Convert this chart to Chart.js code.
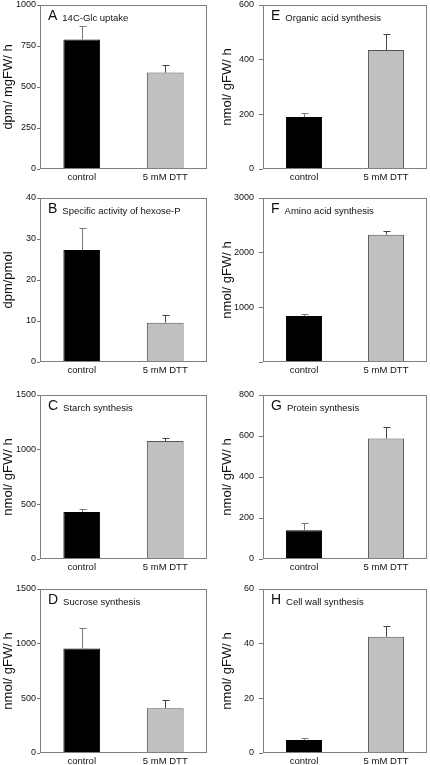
<!DOCTYPE html>
<html>
<head>
<meta charset="utf-8">
<script src="https://cdn.jsdelivr.net/npm/chart.js@4/dist/chart.umd.min.js"></script>
<style>
  body { margin: 0; background: #fff; width: 430px; height: 765px; position: relative; overflow: hidden; }
  .panel { position: absolute; width: 215px; height: 181px; }
</style>
</head>
<body>
<script>
const categories = ['control', '5 mM DTT'];

// means and upper error (SE)
const glcUptake = [790, 588], glcUptakeErr = [80, 45];
const hexosePActivity = [27.3, 9.6], hexosePActivityErr = [5.3, 1.9];
const starchSynth = [430, 1080], starchSynthErr = [25, 30];
const sucroseSynth = [955, 410], sucroseSynthErr = [185, 75];
const organicAcidSynth = [190, 435], organicAcidSynthErr = [15, 60];
const aminoAcidSynth = [840, 2330], aminoAcidSynthErr = [40, 60];
const proteinSynth = [140, 588], proteinSynthErr = [35, 57];
const cellWallSynth = [4.8, 42.5], cellWallSynthErr = [0.8, 4];

// y axis ranges (max, step)
const axisMax = { A: 1000, B: 40, C: 1500, D: 1500, E: 600, F: 3000, G: 800, H: 60 };
const axisStep = { A: 250, B: 10, C: 500, D: 500, E: 200, F: 1000, G: 200, H: 20 };

const panels = [
  { id: 'A', col: 0, row: 0, title: '14C-Glc uptake', yTitle: 'dpm/ mgFW/ h', values: glcUptake, errors: glcUptakeErr },
  { id: 'B', col: 0, row: 1, title: 'Specific activity of hexose-P', yTitle: 'dpm/pmol', values: hexosePActivity, errors: hexosePActivityErr },
  { id: 'C', col: 0, row: 2, title: 'Starch synthesis', yTitle: 'nmol/ gFW/ h', values: starchSynth, errors: starchSynthErr },
  { id: 'D', col: 0, row: 3, title: 'Sucrose synthesis', yTitle: 'nmol/ gFW/ h', values: sucroseSynth, errors: sucroseSynthErr },
  { id: 'E', col: 1, row: 0, title: 'Organic acid synthesis', yTitle: 'nmol/ gFW/ h', values: organicAcidSynth, errors: organicAcidSynthErr },
  { id: 'F', col: 1, row: 1, title: 'Amino acid synthesis', yTitle: 'nmol/ gFW/ h', values: aminoAcidSynth, errors: aminoAcidSynthErr, hideZero: true },
  { id: 'G', col: 1, row: 2, title: 'Protein synthesis', yTitle: 'nmol/ gFW/ h', values: proteinSynth, errors: proteinSynthErr },
  { id: 'H', col: 1, row: 3, title: 'Cell wall synthesis', yTitle: 'nmol/ gFW/ h', values: cellWallSynth, errors: cellWallSynthErr }
];

const rowTops = [0, 193, 390, 584];
const FONT = "Arial, 'Liberation Sans', sans-serif";

const panelDecor = {
  id: 'panelDecor',
  afterDatasetsDraw(chart, args, opts) {
    const ctx = chart.ctx;
    const y = chart.scales.y;
    const meta = chart.getDatasetMeta(0);
    const a = chart.chartArea;
    ctx.save();
    // error bars (upper only)
    meta.data.forEach((bar, i) => {
      const base = y.getPixelForValue(opts.values[i]);
      const top = Math.round(y.getPixelForValue(opts.values[i] + opts.errors[i])) + 0.5;
      const x = Math.round(bar.x) + 0.5;
      ctx.strokeStyle = i === 0 ? '#7a7a7a' : '#444';
      ctx.lineWidth = 1;
      ctx.beginPath();
      ctx.moveTo(x, base);
      ctx.lineTo(x, top);
      ctx.moveTo(x - 3, top);
      ctx.lineTo(x + 4, top);
      ctx.stroke();
    });
    // frame
    ctx.strokeStyle = '#808080';
    ctx.lineWidth = 1;
    ctx.strokeRect(a.left + 0.5, a.top + 0.5, a.right - a.left - 1, a.bottom - a.top - 1);
    // panel letter and title
    ctx.fillStyle = '#111';
    ctx.textBaseline = 'middle';
    ctx.font = '14px ' + FONT;
    ctx.fillText(opts.letter, a.left + 8, a.top + 11);
    const w = ctx.measureText(opts.letter).width;
    ctx.font = '9.5px ' + FONT;
    ctx.fillText(opts.title, a.left + 8 + w + 5, a.top + 13);
    ctx.restore();
  }
};

function drawPanel(p) {
  const canvas = document.createElement('canvas');
  canvas.className = 'panel';
  canvas.width = 215;
  canvas.height = 181;
  canvas.style.left = (p.col * 215) + 'px';
  canvas.style.top = rowTops[p.row] + 'px';
  document.body.appendChild(canvas);
  const left = p.col === 0;
  const axisWidth = left ? 40 : 48;
  return new Chart(canvas, {
    type: 'bar',
    data: {
      labels: categories,
      datasets: [{
        data: p.values,
        backgroundColor: ['#000000', '#c0c0c0'],
        borderColor: ['#000000', '#555555'],
        borderWidth: 1,
        categoryPercentage: 1,
        barPercentage: 0.44
      }]
    },
    options: {
      responsive: false,
      animation: false,
      layout: { padding: { top: 0, right: left ? 8 : 3, left: 0, bottom: 0 } },
      plugins: {
        legend: { display: false },
        tooltip: { enabled: false },
        panelDecor: { letter: p.id, title: p.title, values: p.values, errors: p.errors }
      },
      scales: {
        x: {
          grid: { display: false, drawTicks: false },
          border: { display: false },
          ticks: { color: '#111', font: { family: FONT, size: 9.5 }, padding: 3, maxRotation: 0 },
          afterFit(scale) { scale.height = 12; }
        },
        y: {
          min: 0,
          max: axisMax[p.id],
          grid: { drawOnChartArea: false, tickLength: left ? 3 : 4, color: '#777' },
          border: { display: false },
          ticks: {
            stepSize: axisStep[p.id],
            color: '#111',
            padding: left ? 1 : 5,
            font: { family: FONT, size: 9, lineHeight: 1 },
            callback: v => (p.hideZero && v === 0) ? '' : v
          },
          title: { display: true, text: p.yTitle, color: '#111', font: { family: FONT, size: 13 }, padding: left ? 1 : 5 },
          afterFit(scale) {
            scale.width = axisWidth;
            scale.paddingTop = 5;
            scale.paddingBottom = 0;
          }
        }
      }
    },
    plugins: [panelDecor]
  });
}

panels.forEach(drawPanel);
</script>
</body>
</html>
